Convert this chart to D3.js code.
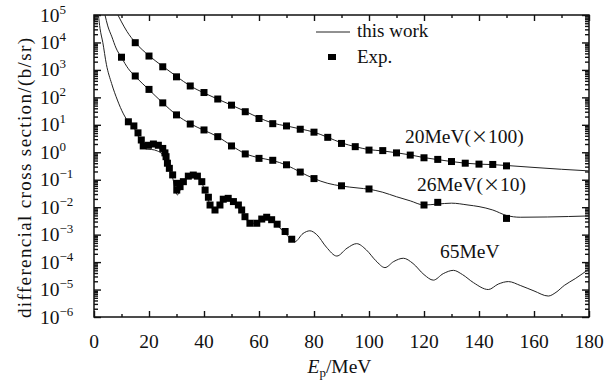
<!DOCTYPE html>
<html>
<head>
<meta charset="utf-8">
<script src="https://cdn.jsdelivr.net/npm/d3@7"></script>
<style>
  body { margin: 0; background: #fff; }
  text { font-family: "Liberation Serif", "Times New Roman", serif; fill: #111; }
</style>
</head>
<body>
<div id="chart"></div>
<script>
// measured data (E in MeV, cross section in b/sr), scaled series as in the figure

// 20 MeV (x100)
var exp20E = [15,20,25,30,35,40,45,50,55,60,65,70,75,80,85,90,95,100,105,110,115,120,125,130,135,140,145,150];
var exp20V = [9.8e3,3.2e3,1.3e3,5.6e2,2.6e2,1.5e2,87,52,30,17,11,9.1,6.9,5.4,3.5,2.1,1.6,1.2,1.15,0.95,0.79,0.63,0.55,0.46,0.40,0.37,0.36,0.32];
var calc20E = [8.7,10,12,15,20,25,30,35,40,45,50,55,60,65,70,75,80,85,90,95,100,105,110,115,120,125,130,135,140,145,150,160,170,180];
var calc20V = [1e5,5.6e4,2.5e4,1e4,3.3e3,1.35e3,5.8e2,2.6e2,1.45e2,86,52,31,18,11.5,9.1,7.1,5.4,3.5,2.2,1.6,1.25,1.12,0.96,0.8,0.64,0.54,0.46,0.40,0.37,0.355,0.33,0.28,0.24,0.21];

// 26 MeV (x10)
var exp26E = [10,15,20,25,30,35,40,45,50,55,60,65,70,75,80,90,100,120,125,150];
var exp26V = [2.9e3,6.0e2,1.95e2,63,23,10.7,6.5,3.7,1.7,0.87,0.60,0.51,0.35,0.19,0.11,0.060,0.046,0.012,0.015,0.0039];
var calc26E = [4,5,6.5,8,10,12.5,15,20,25,30,35,40,45,50,55,60,65,70,75,80,85,90,96,100,105,110,115,120,125,130,136,140,145,150,155,165,180];
var calc26V = [1e5,4e4,1.6e4,6.3e3,2.8e3,1.1e3,5.8e2,1.9e2,63,23,11,6.3,3.7,1.74,0.89,0.63,0.50,0.34,0.19,0.11,0.074,0.059,0.05,0.045,0.035,0.024,0.017,0.012,0.013,0.014,0.012,0.0105,0.0079,0.005,0.0043,0.0044,0.0048];

// 65 MeV
var exp65E = [12.5,14.5,16,17.2,17.9,19.8,21.6,23.4,25,25.8,26.2,26.7,27.4,28.6,30.1,30.1,31.3,32.5,34.3,36.1,37.6,39.2,40.4,41.6,42.2,44,45.8,47,48.8,50.7,52.5,53.7,54.9,56.7,59.2,61,62.8,64.6,66.6,69.5,71.9];
var exp65V = [12.9,9.1,5.1,2.8,1.7,1.8,2.0,1.8,1.38,0.95,0.69,0.40,0.26,0.15,0.074,0.042,0.056,0.085,0.135,0.148,0.135,0.085,0.042,0.023,0.012,0.0079,0.012,0.0195,0.021,0.016,0.012,0.0079,0.0045,0.0026,0.0026,0.0037,0.0043,0.0035,0.0024,0.0013,0.00068];
var calc65E = [1.6,2.2,3.2,4.5,6.4,8.5,10.7,12.5,14.5,16,17.5,19,21,23,25,26.5,28.5,30.3,32,34,36,38,40,42,44,46,48,50,52,54,57,59,62,64.5,67,70,73,76,78.5,81,84.5,88.3,92,95.5,99,102.5,105.8,109,112.5,116,120,123.4,127,130.7,134,138,143.4,147,150.7,155,160,165.2,168,171,175,180];
var calc65V = [1e5,3.2e4,1e4,1.6e3,3.2e2,80,25,12.6,7.9,4,2,1.3,1.26,1.12,0.8,0.4,0.126,0.028,0.063,0.126,0.15,0.126,0.05,0.014,0.0079,0.014,0.02,0.0166,0.0112,0.0063,0.0025,0.0028,0.0043,0.0035,0.002,0.001,0.00055,0.0011,0.00138,0.001,0.00035,0.000166,0.00032,0.00047,0.00028,0.000112,0.000063,0.000105,0.000138,0.000089,0.000035,0.000022,0.000038,0.00005,0.000035,0.0000178,0.00001,0.0000158,0.0000195,0.0000141,0.0000089,0.0000058,0.0000079,0.0000141,0.000025,0.000056];

var xTicks = [0,20,40,60,80,100,120,140,160,180];
var yDecades = [-6,-5,-4,-3,-2,-1,0,1,2,3,4,5];
var seriesLabels = ["20MeV(\u00d7100)", "26MeV(\u00d710)", "65MeV"];

// set the dimensions and margins of the graph
var W = 613, H = 382;
var margin = {top: 15, right: 24, bottom: 65, left: 94},
    width = W - margin.left - margin.right,
    height = H - margin.top - margin.bottom;

var svg = d3.select("#chart")
  .append("svg")
    .attr("width", W)
    .attr("height", H)
  .append("g")
    .attr("transform", "translate(" + margin.left + "," + margin.top + ")");

var x = d3.scaleLinear().domain([0, 180]).range([0, width]);
var y = d3.scaleLog().domain([1e-6, 1e5]).range([height, 0]);

svg.append("clipPath").attr("id", "clip")
  .append("rect").attr("width", width).attr("height", height);

// ticks on all four sides, pointing inward
var majorY = yDecades.map(function(p) { return Math.pow(10, p); });
var minorY = [];
yDecades.slice(0, -1).forEach(function(p) {
  for (var k = 2; k <= 9; k++) minorY.push(k * Math.pow(10, p));
});
var minorX = d3.range(10, 180, 20);

function tickAxis(axisFn, scale, values, size, transform) {
  var g = svg.append("g")
    .attr("transform", transform || null)
    .call(axisFn(scale).tickValues(values).tickSizeInner(-size).tickSizeOuter(0).tickFormat(""));
  g.select(".domain").remove();
  g.selectAll("line").attr("stroke", "#111").attr("stroke-width", 1.4);
  return g;
}
tickAxis(d3.axisLeft, y, majorY, 7);
tickAxis(d3.axisLeft, y, minorY, 4);
tickAxis(d3.axisRight, y, majorY, 7, "translate(" + width + ",0)");
tickAxis(d3.axisRight, y, minorY, 4, "translate(" + width + ",0)");
tickAxis(d3.axisBottom, x, xTicks, 6, "translate(0," + height + ")");
tickAxis(d3.axisBottom, x, minorX, 3, "translate(0," + height + ")");
tickAxis(d3.axisTop, x, xTicks, 6);
tickAxis(d3.axisTop, x, minorX, 3);

// frame
svg.append("rect")
  .attr("width", width).attr("height", height)
  .attr("fill", "none").attr("stroke", "#111").attr("stroke-width", 1.5);

// x tick labels
svg.append("g").selectAll("text")
  .data(xTicks).enter().append("text")
    .attr("x", function(d) { return x(d); })
    .attr("y", height + 31)
    .attr("text-anchor", "middle")
    .style("font-size", "19.5px")
    .text(function(d) { return d; });

// y tick labels: 10 with superscript
var yl = svg.append("g").selectAll("text")
  .data(yDecades).enter().append("text")
    .attr("x", 40 - margin.left)
    .attr("y", function(d) { return y(Math.pow(10, d)) + 6.5; })
    .style("font-size", "19.5px");
yl.append("tspan").text("10");
yl.append("tspan")
  .attr("dy", -8)
  .style("font-size", "13px")
  .text(function(d) { return d < 0 ? "\u2212" + Math.abs(d) : d; });

// axis titles
var xt = svg.append("text")
  .attr("x", width / 2 - 2)
  .attr("y", height + 56)
  .attr("text-anchor", "middle")
  .style("font-size", "19.5px");
xt.append("tspan").style("font-style", "italic").text("E");
xt.append("tspan").attr("dy", 4).style("font-size", "13px").text("p");
xt.append("tspan").attr("dy", -4).text("/MeV");

svg.append("text")
  .attr("transform", "translate(" + (31 - margin.left) + "," + (height / 2 + 12) + ") rotate(-90)")
  .attr("text-anchor", "middle")
  .attr("textLength", 280)
  .attr("lengthAdjust", "spacing")
  .style("font-size", "19px")
  .text("differencial cross section/(b/sr)");

// curves
var line = d3.line()
  .x(function(d) { return x(d[0]); })
  .y(function(d) { return y(d[1]); })
  .curve(d3.curveMonotoneX);

var series = [
  {cE: calc20E, cV: calc20V, eE: exp20E, eV: exp20V},
  {cE: calc26E, cV: calc26V, eE: exp26E, eV: exp26V},
  {cE: calc65E, cV: calc65V, eE: exp65E, eV: exp65V}
];

var plot = svg.append("g").attr("clip-path", "url(#clip)");
series.forEach(function(s) {
  plot.append("path")
    .datum(d3.zip(s.cE, s.cV))
    .attr("d", line)
    .attr("fill", "none")
    .attr("stroke", "#222")
    .attr("stroke-width", 1);
});

var sq = 7;
series.forEach(function(s) {
  plot.append("g").selectAll("rect")
    .data(d3.zip(s.eE, s.eV))
    .enter().append("rect")
      .attr("x", function(d) { return x(d[0]) - sq / 2; })
      .attr("y", function(d) { return y(d[1]) - sq / 2; })
      .attr("width", sq).attr("height", sq)
      .attr("fill", "#000");
});

// series labels, the multiplication sign is set in a wide CJK face as in the figure
var labelPos = [[405, 143], [417, 191], [440, 258]];
var sl = svg.append("g").selectAll("text")
  .data(seriesLabels).enter().append("text")
    .attr("x", function(d, i) { return labelPos[i][0] - margin.left; })
    .attr("y", function(d, i) { return labelPos[i][1] - margin.top; })
    .style("font-size", "19.5px");
sl.each(function(d) {
  var t = d3.select(this), parts = d.split("\u00d7");
  t.append("tspan").text(parts[0]);
  if (parts.length > 1) {
    t.append("tspan").style("font-family", "'Noto Sans CJK SC'").style("font-size", "17px").text("\u00d7");
    t.append("tspan").text(parts[1]);
  }
});

// legend
var lg = svg.append("g").attr("transform", "translate(" + (316 - margin.left) + "," + (32 - margin.top) + ")");
lg.append("line").attr("x1", 0).attr("x2", 34).attr("y1", 0).attr("y2", 0)
  .attr("stroke", "#222").attr("stroke-width", 1);
lg.append("text").attr("x", 41).attr("y", 5).style("font-size", "19px").text("this work");
lg.append("rect").attr("x", 12).attr("y", 22).attr("width", 8).attr("height", 6).attr("fill", "#000");
lg.append("text").attr("x", 41).attr("y", 31).style("font-size", "19px").text("Exp.");
</script>
</body>
</html>
